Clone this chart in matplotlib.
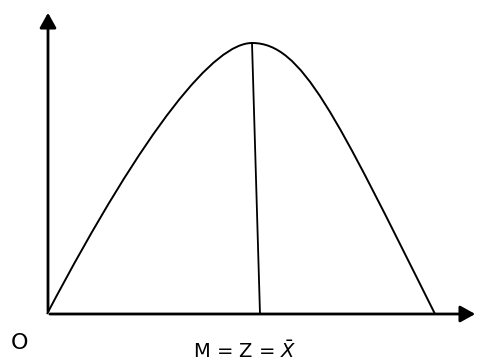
import matplotlib
matplotlib.use('Agg')
import matplotlib.pyplot as plt
from matplotlib.patches import FancyArrowPatch, PathPatch
from matplotlib.path import Path

# Bezier control points of the curve
# (x in px, height above the x axis in px)
rise_pts = [(47, 0), (147, 190), (215, 271), (252, 271)]
fall_pts = [(252, 271), (302, 271), (335, 200), (435, 0)]

peak = (252, 271)
mean_foot = (260, 0)

origin_label = 'O'
center_label = r'M = Z = $\bar{X}$'

fig = plt.figure(figsize=(4.78, 3.64), dpi=100)
ax = fig.add_axes([0, 0, 1, 1])
ax.set_xlim(0, 478)
ax.set_ylim(-50, 314)
ax.axis('off')

# axes with arrows
for start, end in [((47, 0), (478, 0)), ((48, 0), (48, 304))]:
    arr = FancyArrowPatch(start, end, arrowstyle='-|>,head_length=9,head_width=5',
                          mutation_scale=1, color='black', lw=2)
    ax.add_patch(arr)

verts = rise_pts + fall_pts[1:]
codes = [Path.MOVETO] + [Path.CURVE4] * 6
ax.add_patch(PathPatch(Path(verts, codes), fill=False, edgecolor='black', lw=1.4))
ax.plot([peak[0], mean_foot[0]], [peak[1], mean_foot[1]], color='black', lw=1.3)

ax.text(20, -29, origin_label, fontsize=16, ha='center', va='center', family='DejaVu Sans')
ax.text(245, -44, center_label, fontsize=14, ha='center', va='baseline', family='DejaVu Sans')

fig.savefig('out.png', dpi=100)
